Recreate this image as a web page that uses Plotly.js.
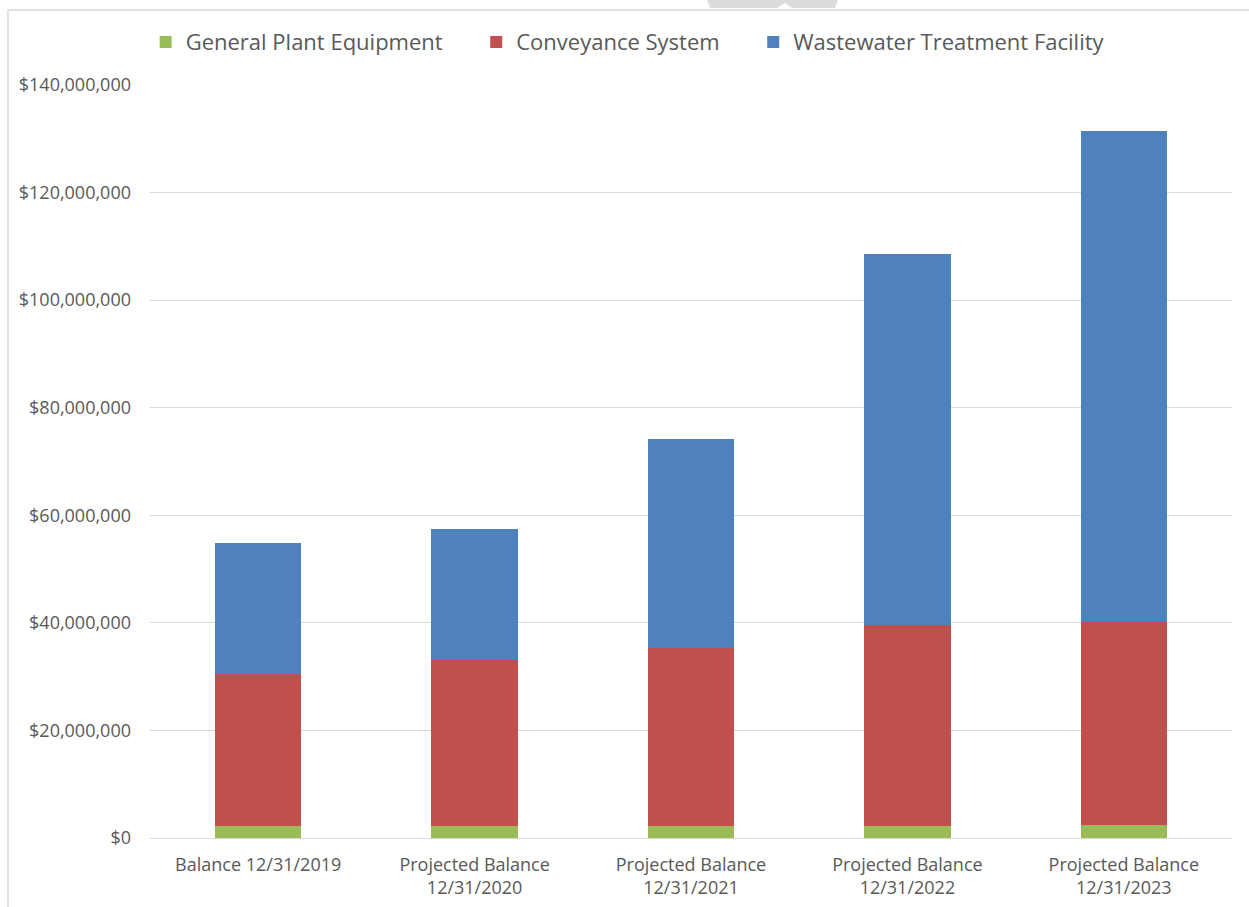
<!DOCTYPE html>
<html>
<head>
<meta charset="utf-8">
<script src="https://cdn.plot.ly/plotly-3.0.1.min.js"></script>
<style>
html,body{margin:0;padding:0;background:#fff;}
#chart{width:1249px;height:907px;}
</style>
</head>
<body>
<div id="chart"></div>
<script>
const categories = ["Balance 12/31/2019", "Projected Balance<br>12/31/2020", "Projected Balance<br>12/31/2021", "Projected Balance<br>12/31/2022", "Projected Balance<br>12/31/2023"];
const seriesNames = ["General Plant Equipment", "Conveyance System", "Wastewater Treatment Facility"];
const generalPlant = [2200000, 2200000, 2200000, 2200000, 2400000];
const conveyance = [28300000, 30900000, 33200000, 37400000, 37800000];
const wastewater = [24300000, 24300000, 38800000, 69000000, 91200000];
const yTicks = [0, 20000000, 40000000, 60000000, 80000000, 100000000, 120000000, 140000000];
const yTickText = ["$0", "$20,000,000", "$40,000,000", "$60,000,000", "$80,000,000", "$100,000,000", "$120,000,000", "$140,000,000"];

const fontFam = "'Open Sans', sans-serif";
const pad = "\u00a0\u00a0\u00a0\u00a0\u00a0";
const traces = [
  {type: "bar", name: seriesNames[0] + pad, x: categories, y: generalPlant, marker: {color: "#9BBB59"}},
  {type: "bar", name: seriesNames[1] + pad, x: categories, y: conveyance, marker: {color: "#C0504D"}},
  {type: "bar", name: seriesNames[2], x: categories, y: wastewater, marker: {color: "#4F81BD"}}
];
// pixel -> paper helpers (plot area: x 150..1232, y 85..838)
const px = v => (v - 150) / 1082;
const py = v => (838 - v) / 753;
const layout = {
  width: 1249, height: 907,
  barmode: "stack",
  bargap: 0.6,
  paper_bgcolor: "#fff", plot_bgcolor: "#fff",
  margin: {l: 150, r: 17, t: 85, b: 69},
  font: {family: fontFam, color: "#595959", size: 18},
  showlegend: true,
  legend: {orientation: "h", x: -0.004, xanchor: "left", y: 1.057, yanchor: "middle", font: {size: 22, color: "#595959"}, traceorder: "normal"},
  xaxis: {showgrid: false, showline: true, linecolor: "#d9d9d9", linewidth: 1, ticks: "", ticklabelstandoff: 10, tickfont: {size: 18, color: "#595959"}},
  yaxis: {range: [0, 140000000], tickvals: yTicks, ticktext: yTickText, showgrid: true, gridcolor: "#d9d9d9", gridwidth: 1, zeroline: false, showline: false, ticks: "", ticklabelstandoff: 18, tickfont: {size: 18, color: "#595959"}, automargin: false},
  shapes: [
    {type: "rect", xref: "paper", yref: "paper", x0: px(8), x1: px(1255), y0: py(915), y1: py(10), line: {color: "#d9d9d9", width: 1.5}},
    {type: "path", xref: "paper", yref: "paper", fillcolor: "#dcdcdc", line: {width: 0},
     path: "M " + px(707) + "," + py(0) + " L " + px(838) + "," + py(0) + " L " + px(835) + "," + py(8) + " L " + px(792) + "," + py(8) + " L " + px(785) + "," + py(3) + " L " + px(777) + "," + py(8) + " L " + px(710) + "," + py(8) + " Z"}
  ]
};
Plotly.newPlot("chart", traces, layout, {displayModeBar: false, staticPlot: true});
</script>
</body>
</html>
